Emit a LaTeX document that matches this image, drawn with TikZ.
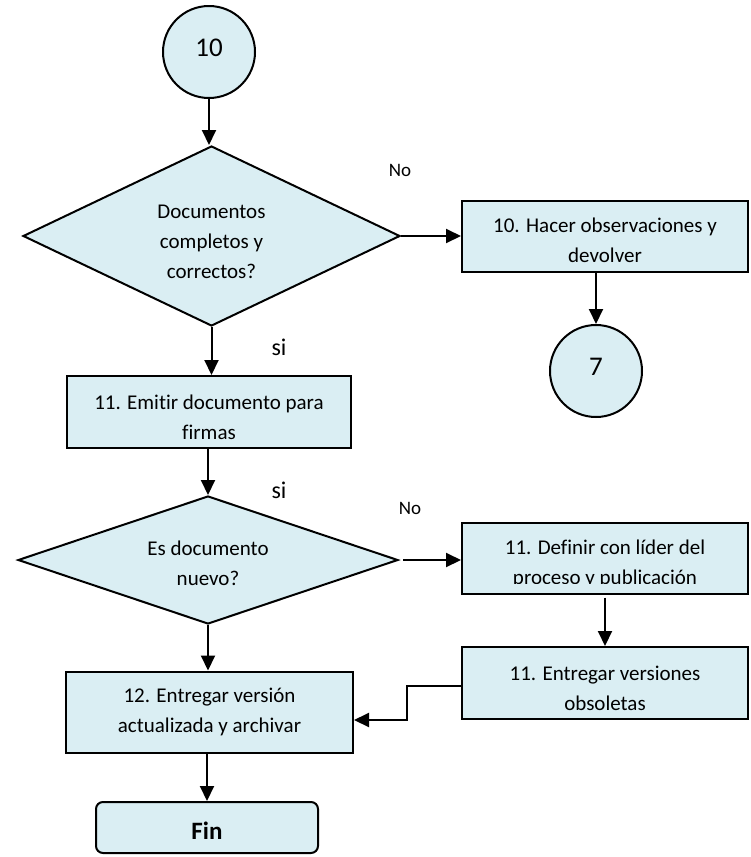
\documentclass[tikz,border=0pt]{standalone}
\usepackage{fontspec}
\setmainfont{Carlito}[Ligatures=NoCommon]
\usetikzlibrary{shapes.geometric,arrows.meta,calc}
\definecolor{boxfill}{HTML}{DAEEF3}

\begin{document}
\begin{tikzpicture}[x=1pt,y=-1pt,
  every node/.style={font=\fontsize{21}{30}\selectfont},
  base/.style={draw=black, line width=2pt, fill=boxfill, inner sep=0pt},
  txt/.style={align=center, inner sep=0pt},
  procbox/.style={base, rectangle, minimum width=286pt},
  decision/.style={base, diamond},
  connector/.style={base, circle, minimum size=92pt},
  terminal/.style={base, rectangle, rounded corners=7pt},
  flow/.style={line width=2pt, -{Triangle[length=15pt,width=14pt]}},
  answer/.style={inner sep=0pt, font=\fontsize{19}{22}\selectfont},
  yes/.style={inner sep=0pt, font=\fontsize{24}{28}\selectfont}]
\useasboundingbox (0,0) rectangle (750,857);

% connectors and shapes
\node[connector, label={[txt, yshift=4pt, font=\fontsize{27}{30}\selectfont]center:10}] (c10) at (209,52) {};

\node[decision, minimum width=377pt, minimum height=180pt,
  label={[txt, yshift=-6pt]center:Documentos\\completos y\\correctos?}] (d1) at (211.5,236) {};

\node[procbox, minimum height=71pt,
  label={[txt, yshift=-4pt]center:10. Hacer observaciones y\\devolver}] (b10) at (605,236.5) {};

\node[connector, label={[txt, yshift=4pt, font=\fontsize{27}{30}\selectfont]center:7}] (c7) at (596,371) {};

\node[procbox, minimum width=284pt, minimum height=72pt,
  label={[txt, yshift=-5pt]center:11. Emitir documento para\\firmas}] (b11) at (209,412) {};

\node[decision, minimum width=380pt, minimum height=128pt,
  label={[txt, yshift=-3pt]center:Es documento\\nuevo?}] (d2) at (208,560) {};

% this box is too short for its text: the last line is cut at the baseline
\node[procbox, minimum height=71pt] (bdef) at (605,558) {};
\begin{scope}
  \clip ([xshift=1pt,yshift=-1pt]bdef.north west) rectangle (bdef.east |- 0,583);
  \node[txt] (bdeft) at (605,564) {11. Definir con líder del\\proceso y publicación};
\end{scope}

\node[procbox, minimum height=72pt,
  label={[txt, yshift=-5pt]center:11. Entregar versiones\\obsoletas}] (bobs) at (605,683) {};

\node[procbox, minimum width=287pt, minimum height=81pt,
  label={[txt]center:12. Entregar versión\\actualizada y archivar}] (b12) at (209.5,712) {};

\node[terminal, minimum width=222pt, minimum height=51pt,
  label={[txt, yshift=-3pt, font=\fontsize{25}{28}\selectfont\bfseries]center:Fin}] (fin) at (207,827.5) {};

% branch labels
\node[answer] (no1) at (400,170) {No};
\node[yes] (si1) at (279,347) {si};
\node[yes] (si2) at (279,490) {si};
\node[answer] (no2) at (410,508) {No};

% flow lines
\draw[flow] (c10.south) -- (c10.south |- d1.north);
\draw[flow] (d1.east) -- (d1.east -| b10.west);
\draw[flow] (c7.north |- b10.south) -- (c7.north);
\draw[flow] (d1.south) -- (d1.south |- b11.north);
\draw[flow] (d2.north |- b11.south) -- (d2.north);
\draw[flow, shorten <=4pt] (d2.east) -- (d2.east -| bdef.west);
\draw[flow, shorten <=3pt] (bdef.south) -- (bobs.north);
\draw[flow] ([yshift=-3pt]bobs.west) -- ++(-54,0) |- ([yshift=-8pt]b12.east);
\draw[flow] (d2.south) -- (d2.south |- b12.north);
\draw[flow] (fin.north |- b12.south) -- (fin.north);
\end{tikzpicture}
\end{document}
